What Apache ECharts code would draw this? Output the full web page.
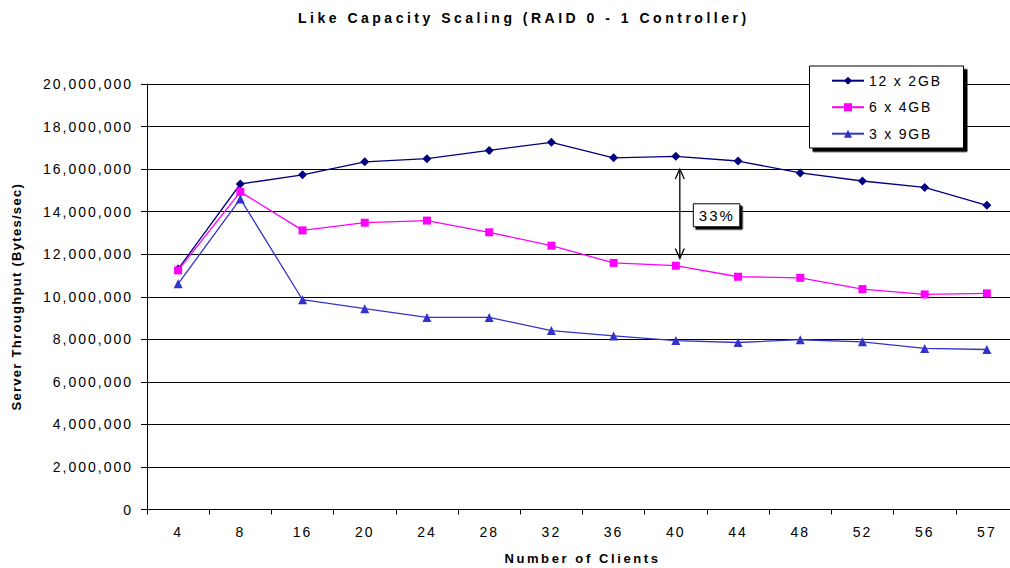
<!DOCTYPE html>
<html><head><meta charset="utf-8">
<script src="https://cdn.jsdelivr.net/npm/echarts@6/dist/echarts.min.js"></script>
<style>
html,body{margin:0;padding:0;background:#fff;overflow:hidden}
#c{width:1010px;height:568px}
text[style*="TitleF"]{letter-spacing:3.5px}
text[style*="TickF"]{letter-spacing:2px}
text[style*="XNameF"]{letter-spacing:2.6px}
text[style*="YNameF"]{letter-spacing:1.3px}
text[style*="LegF"]{letter-spacing:1.8px}
text[style*="AnnF"]{letter-spacing:2px}
</style></head><body><div id="c"></div>
<script>
const titleText = 'Like Capacity Scaling (RAID 0 - 1 Controller)';
const xName = 'Number of Clients';
const yName = 'Server Throughput (Bytes/sec)';
const categories = ['4','8','16','20','24','28','32','36','40','44','48','52','56','57'];
const seriesNames = ['12 x 2GB', '6 x 4GB', '3 x 9GB'];
const s12x2GB = [11300000, 15300000, 15730000, 16340000, 16490000, 16880000, 17260000, 16530000, 16600000, 16380000, 15820000, 15440000, 15140000, 14300000];
const s6x4GB = [11240000, 14930000, 13120000, 13480000, 13580000, 13030000, 12400000, 11590000, 11460000, 10940000, 10890000, 10360000, 10110000, 10160000];
const s3x9GB = [10610000, 14600000, 9860000, 9440000, 9030000, 9030000, 8410000, 8160000, 7940000, 7850000, 7980000, 7880000, 7570000, 7520000];
const yTicks = [0, 2000000, 4000000, 6000000, 8000000, 10000000, 12000000, 14000000, 16000000, 18000000, 20000000];
const annotation = { category: '40', from: 16000000, to: 11800000, labelAt: 13830000, text: '33%' };

const fmt = v => String(v).replace(/\B(?=(\d{3})+(?!\d))/g, ',');
const chart = echarts.init(document.getElementById('c'), null, { renderer: 'svg' });

function mk(name, data, color, symbol, size) {
  return {
    name, type: 'line', data, symbol, symbolSize: size,
    itemStyle: { color }, lineStyle: { color, width: 1.3 },
    emphasis: { disabled: true }, z: 3
  };
}

chart.setOption({
  animation: false,
  backgroundColor: '#fff',
  title: {
    text: titleText, left: 298, top: 11, padding: 0,
    textStyle: { fontFamily: "'Liberation Sans', TitleF", fontSize: 14, fontWeight: 'bold', color: '#000' }
  },
  grid: { left: 147, top: 84, width: 871, height: 425.5, containLabel: false, outerBoundsMode: 'none' },
  legend: {
    orient: 'vertical', left: 831, top: 73.7, padding: 0,
    itemWidth: 32, itemHeight: 10, itemGap: 12.5,
    data: seriesNames,
    textStyle: { fontFamily: "'Liberation Sans', LegF", fontSize: 14, color: '#000' },
    z: 20
  },
  xAxis: {
    type: 'category', data: categories, boundaryGap: true,
    name: xName, nameLocation: 'middle', nameGap: 42,
    nameTextStyle: { fontFamily: "'Liberation Sans', XNameF", fontSize: 13, fontWeight: 'bold', color: '#000' },
    axisLine: { lineStyle: { color: '#000', width: 1 } },
    axisTick: { show: true, length: 5, lineStyle: { color: '#000' } },
    axisLabel: { margin: 15, color: '#000', fontFamily: "'Liberation Sans', TickF", fontSize: 14 },
    splitLine: { show: false }
  },
  yAxis: {
    type: 'value', min: yTicks[0], max: yTicks[yTicks.length - 1], interval: yTicks[1] - yTicks[0],
    name: yName, nameLocation: 'middle', nameGap: 124, nameRotate: 90,
    nameTextStyle: { fontFamily: "'Liberation Sans', YNameF", fontSize: 13, fontWeight: 'bold', color: '#000' },
    axisLine: { show: true, lineStyle: { color: '#000', width: 1 } },
    axisTick: { show: true, length: 6, lineStyle: { color: '#000' } },
    axisLabel: { margin: 14, color: '#000', fontFamily: "'Liberation Sans', TickF", fontSize: 14, formatter: fmt },
    splitLine: { show: true, lineStyle: { color: '#000', width: 1 } }
  },
  series: [
    mk(seriesNames[0], s12x2GB, '#000080', 'diamond', 9),
    mk(seriesNames[1], s6x4GB, '#FF00FF', 'rect', 8),
    mk(seriesNames[2], s3x9GB, '#3333CC', 'triangle', 9)
  ]
});

const pTop = chart.convertToPixel({ gridIndex: 0 }, [annotation.category, annotation.from]);
const pBot = chart.convertToPixel({ gridIndex: 0 }, [annotation.category, annotation.to]);
const pLab = chart.convertToPixel({ gridIndex: 0 }, [annotation.category, annotation.labelAt]);
const ax = pTop[0] + 4;
const ty = pTop[1], by = pBot[1], ly = pLab[1];

chart.setOption({
  graphic: [
    { type: 'rect', z: 10, shape: { x: 809.5, y: 66, width: 154, height: 82 },
      style: { fill: '#fff', stroke: '#000', lineWidth: 1, shadowColor: '#000', shadowOffsetX: 3.5, shadowOffsetY: 3.5, shadowBlur: 0 } },
    { type: 'line', z: 10, shape: { x1: ax, y1: ty, x2: ax, y2: by }, style: { stroke: '#000', lineWidth: 1.3 } },
    { type: 'polyline', z: 10, shape: { points: [[ax - 4.5, ty + 10], [ax, ty], [ax + 4.5, ty + 10]] }, style: { stroke: '#000', lineWidth: 1.3, fill: null } },
    { type: 'polyline', z: 10, shape: { points: [[ax - 4.5, by - 10], [ax, by], [ax + 4.5, by - 10]] }, style: { stroke: '#000', lineWidth: 1.3, fill: null } },
    { type: 'rect', z: 10, shape: { x: ax + 13.5, y: ly - 11.5, width: 46.5, height: 23 },
      style: { fill: '#fff', stroke: '#000', lineWidth: 1, shadowColor: '#000', shadowOffsetX: 2.5, shadowOffsetY: 2.5, shadowBlur: 0 } },
    { type: 'text', z: 11, x: ax + 37, y: ly,
      style: { text: annotation.text, fill: '#000', fontFamily: "'Liberation Sans', AnnF", fontSize: 15, align: 'center', verticalAlign: 'middle' } }
  ]
});
</script></body></html>
